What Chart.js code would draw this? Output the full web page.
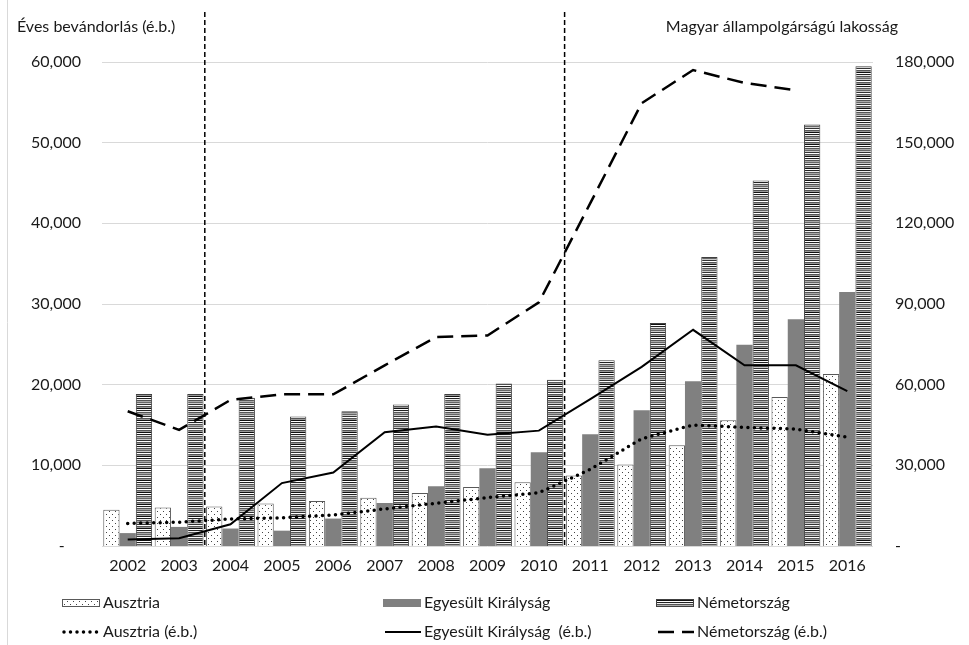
<!DOCTYPE html>
<html lang="hu">
<head>
<meta charset="utf-8">
<script src="https://cdn.jsdelivr.net/npm/chart.js@4/dist/chart.umd.min.js"></script>
<style>
    html, body { margin: 0; padding: 0; background: #fff; }
    #grafikon { display: block; }
</style>
</head>
<body>
<canvas id="grafikon" width="969" height="645"></canvas>
<script>
const evek = ['2002', '2003', '2004', '2005', '2006', '2007', '2008', '2009', '2010', '2011', '2012', '2013', '2014', '2015', '2016'];

// lakosság (jobb tengely)
const ausztriaLakossag = [13500, 14300, 14700, 15800, 16700, 17900, 19700, 21900, 23700, 26200, 30300, 37500, 46800, 55400, 64000];
const egyesultLakossag = [4800, 7100, 6500, 5700, 10200, 16000, 22200, 28900, 34900, 41600, 50500, 61300, 74800, 84300, 94500];
const nemetLakossag = [56500, 56500, 55100, 48200, 50100, 52600, 56500, 60400, 61800, 69100, 82900, 107500, 135900, 156800, 178400];

// éves bevándorlás (bal tengely)
const ausztriaBevandorlas = [2800, 2950, 3350, 3500, 3850, 4600, 5300, 6000, 6600, 9500, 13300, 15000, 14700, 14500, 13500];
const egyesultBevandorlas = [800, 950, 2700, 7800, 9100, 14100, 14800, 13800, 14300, 18200, 22200, 26800, 22400, 22400, 19200];
const nemetBevandorlas = [16700, 14400, 18100, 18800, 18800, 22400, 25900, 26100, 30200, 42500, 54900, 59000, 57400, 56500, null];

const balTengelyCimke = 'Éves bevándorlás (é.b.)';
const jobbTengelyCimke = 'Magyar állampolgárságú lakosság';

const betu = 'Lato, "Open Sans", sans-serif';
const szovegSzin = '#1a1a1a';

function pontozottMinta() {
    const c = document.createElement('canvas');
    c.width = 6;
    c.height = 6;
    const ctx = c.getContext('2d');
    ctx.fillStyle = '#fff';
    ctx.fillRect(0, 0, 6, 6);
    ctx.fillStyle = '#444';
    ctx.fillRect(1, 1, 1, 1);
    ctx.fillRect(4, 4, 1, 1);
    return ctx.createPattern(c, 'repeat');
}

function csikosMinta() {
    const sorok = ['#111', '#fff', '#222', '#eee', '#555', '#aaa', '#666', '#ccc', '#333', '#fff', '#555', '#999'];
    const c = document.createElement('canvas');
    c.width = 4;
    c.height = sorok.length;
    const ctx = c.getContext('2d');
    sorok.forEach((szin, i) => {
        ctx.fillStyle = szin;
        ctx.fillRect(0, i, 4, 1);
    });
    return ctx.createPattern(c, 'repeat');
}

function formazas(ertek, jobb) {
    if (ertek === 0) {
        return jobb ? '-' : '-    ';
    }
    return ertek.toLocaleString('en-US');
}

// jelmagyarázat, tengelycímek, függőleges jelölővonalak
const kiegeszitok = {
    id: 'kiegeszitok',
    beforeDraw(chart) {
        const ctx = chart.ctx;
        ctx.save();
        ctx.strokeStyle = '#d9d9d9';
        ctx.lineWidth = 1;
        ctx.beginPath();
        ctx.moveTo(7.5, 0);
        ctx.lineTo(7.5, chart.height);
        ctx.stroke();
        ctx.restore();
    },
    afterDatasetsDraw(chart) {
        const ctx = chart.ctx;
        const x = chart.scales.x;
        const also = chart.chartArea.bottom;
        ctx.save();
        ctx.strokeStyle = '#000';
        ctx.lineWidth = 1.5;
        ctx.setLineDash([5, 3]);
        [1.5, 8.5].forEach(hely => {
            const px = (x.getPixelForValue(Math.floor(hely)) + x.getPixelForValue(Math.ceil(hely))) / 2;
            ctx.beginPath();
            ctx.moveTo(px, 12);
            ctx.lineTo(px, also);
            ctx.stroke();
        });
        ctx.restore();
    },
    afterDraw(chart) {
        const ctx = chart.ctx;
        ctx.save();
        ctx.fillStyle = szovegSzin;
        ctx.font = '16px ' + betu;
        ctx.textBaseline = 'middle';
        ctx.textAlign = 'left';
        ctx.fillText(balTengelyCimke, 17, 27);
        ctx.textAlign = 'right';
        ctx.fillText(jobbTengelyCimke, 898, 27);

        const helyek = [
            { i: 0, x: 62, y: 603 },
            { i: 1, x: 383, y: 603 },
            { i: 2, x: 656, y: 603 },
            { i: 3, x: 62, y: 632 },
            { i: 4, x: 383, y: 632 },
            { i: 5, x: 656, y: 632 }
        ];
        ctx.font = '16px ' + betu;
        ctx.textAlign = 'left';
        helyek.forEach(h => {
            const ds = chart.data.datasets[h.i];
            if (ds.type === 'bar') {
                ctx.fillStyle = ds.backgroundColor;
                ctx.fillRect(h.x, h.y - 4, 38, 8);
                if (ds.borderWidth) {
                    ctx.strokeStyle = ds.borderColor;
                    ctx.lineWidth = 1;
                    ctx.strokeRect(h.x + 0.5, h.y - 3.5, 37, 7);
                }
            } else {
                ctx.strokeStyle = ds.borderColor;
                ctx.lineWidth = ds.borderWidth;
                ctx.lineCap = ds.borderCapStyle || 'butt';
                ctx.setLineDash(ds.borderDash || []);
                ctx.beginPath();
                ctx.moveTo(h.x + 2, h.y);
                ctx.lineTo(h.x + 38, h.y);
                ctx.stroke();
                ctx.setLineDash([]);
            }
            ctx.fillStyle = szovegSzin;
            ctx.fillText(ds.label, h.x + 41, h.y);
        });
        ctx.restore();
    }
};

new Chart(document.getElementById('grafikon'), {
    data: {
        labels: evek,
        datasets: [
            {
                type: 'bar',
                label: 'Ausztria',
                data: ausztriaLakossag,
                yAxisID: 'y2',
                backgroundColor: pontozottMinta(),
                borderColor: '#595959',
                borderWidth: 1,
                order: 1
            },
            {
                type: 'bar',
                label: 'Egyesült Királyság',
                data: egyesultLakossag,
                yAxisID: 'y2',
                backgroundColor: '#808080',
                borderWidth: 0,
                order: 1
            },
            {
                type: 'bar',
                label: 'Németország',
                data: nemetLakossag,
                yAxisID: 'y2',
                backgroundColor: csikosMinta(),
                borderColor: '#404040',
                borderWidth: 1,
                order: 1
            },
            {
                type: 'line',
                label: 'Ausztria (é.b.)',
                data: ausztriaBevandorlas,
                yAxisID: 'y',
                borderColor: '#000',
                borderWidth: 3.5,
                borderDash: [0, 6.5],
                borderCapStyle: 'round',
                pointRadius: 0,
                tension: 0,
                fill: false,
                order: 0
            },
            {
                type: 'line',
                label: 'Egyesült Királyság  (é.b.)',
                data: egyesultBevandorlas,
                yAxisID: 'y',
                borderColor: '#000',
                borderWidth: 2,
                pointRadius: 0,
                tension: 0,
                fill: false,
                order: 0
            },
            {
                type: 'line',
                label: 'Németország (é.b.)',
                data: nemetBevandorlas,
                yAxisID: 'y',
                borderColor: '#000',
                borderWidth: 2.5,
                borderDash: [16, 8],
                pointRadius: 0,
                tension: 0,
                fill: false,
                spanGaps: false,
                order: 0
            }
        ]
    },
    options: {
        responsive: false,
        animation: false,
        layout: {
            padding: { top: 62, bottom: 69, left: 0, right: 0 }
        },
        datasets: {
            bar: {
                categoryPercentage: 0.95,
                barPercentage: 1
            }
        },
        plugins: {
            legend: { display: false },
            tooltip: { enabled: false }
        },
        scales: {
            x: {
                grid: { display: false },
                border: { display: false },
                ticks: {
                    color: szovegSzin,
                    font: { family: betu, size: 16 },
                    padding: 2,
                    maxRotation: 0
                },
                afterFit(scale) {
                    scale.height = 30;
                }
            },
            y: {
                position: 'left',
                min: 0,
                max: 60000,
                grid: { color: '#d9d9d9', drawTicks: false },
                border: { display: false },
                ticks: {
                    stepSize: 10000,
                    color: szovegSzin,
                    font: { family: betu, size: 16 },
                    padding: 21,
                    callback(ertek) {
                        return formazas(ertek, false);
                    }
                },
                afterFit(scale) {
                    scale.width = 102;
                }
            },
            y2: {
                position: 'right',
                min: 0,
                max: 180000,
                grid: { display: false, drawTicks: false },
                border: { display: false },
                ticks: {
                    stepSize: 30000,
                    color: szovegSzin,
                    font: { family: betu, size: 16 },
                    padding: 22,
                    callback(ertek) {
                        return formazas(ertek, true);
                    }
                },
                afterFit(scale) {
                    scale.width = 96;
                }
            }
        }
    },
    plugins: [kiegeszitok]
});
</script>
</body>
</html>
